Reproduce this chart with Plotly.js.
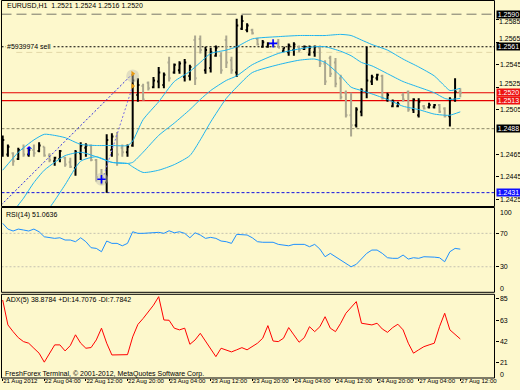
<!DOCTYPE html>
<html><head><meta charset="utf-8">
<script src="https://cdn.plot.ly/plotly-3.0.1.min.js"></script>
<style>html,body{margin:0;padding:0;background:#fdf8cc;}#chart{width:520px;height:390px;}</style>
</head><body><div id="chart"></div>
<script>
// ---------- data ----------
const symbolName = 'EURUSD,H1';
const tickIdx = [0, 8, 16, 24, 32, 40, 48, 56, 64, 72, 80, 88];
const tickLabels = ['21 Aug 2012','22 Aug 04:00','22 Aug 12:00','22 Aug 20:00','23 Aug 04:00','23 Aug 12:00','23 Aug 20:00','24 Aug 04:00','24 Aug 12:00','24 Aug 20:00','27 Aug 04:00','27 Aug 12:00'];
const openP = [1.2469,1.2465,1.2466,1.2461,1.2470,1.2465,1.2469,1.2468,1.2472,1.2464,
 1.2459,1.2461,1.2462,1.2458,1.2453,1.2466,1.2471,1.2473,1.2460,1.2445,
 1.2440,1.2469,1.2481,1.2471,1.2467,1.2473,1.2518,1.2526,1.2529,1.2525,
 1.2530,1.2527,1.2547,1.2538,1.2540,1.2534,1.2535,1.2567,1.2568,1.2540,
 1.2542,1.2553,1.2553,1.2567,1.2549,1.2538,1.2577,1.2576,1.2576,1.2568,
 1.2561,1.2561,1.2564,1.2565,1.2557,1.2556,1.2558,1.2561,1.2559,1.2554,
 1.2556,1.2560,1.2546,1.2551,1.2547,1.2533,1.2520,1.2500,1.2491,1.2503,
 1.2521,1.2530,1.2533,1.2535,1.2514,1.2508,1.2508,1.2518,1.2521,1.2505,
 1.2500,1.2508,1.2507,1.2507,1.2509,1.2506,1.2499,1.2514,1.2521];
const highP = [1.2482,1.2474,1.2467,1.2471,1.2474,1.2471,1.2474,1.2476,1.2472,1.2466,
 1.2463,1.2469,1.2463,1.2462,1.2469,1.2476,1.2475,1.2474,1.2461,1.2452,
 1.2483,1.2484,1.2485,1.2474,1.2474,1.2536,1.2533,1.2528,1.2530,1.2534,
 1.2543,1.2538,1.2552,1.2546,1.2548,1.2550,1.2545,1.2571,1.2571,1.2561,
 1.2560,1.2562,1.2556,1.2571,1.2552,1.2586,1.2589,1.2582,1.2577,1.2569,
 1.2567,1.2565,1.2565,1.2568,1.2560,1.2564,1.2565,1.2562,1.2562,1.2562,
 1.2562,1.2562,1.2549,1.2553,1.2551,1.2536,1.2522,1.2520,1.2507,1.2524,
 1.2561,1.2536,1.2537,1.2536,1.2520,1.2514,1.2512,1.2520,1.2522,1.2515,
 1.2515,1.2509,1.2511,1.2510,1.2510,1.2507,1.2516,1.2533,1.2524];
const lowP = [1.2463,1.2463,1.2455,1.2460,1.2463,1.2463,1.2463,1.2467,1.2463,1.2458,
 1.2455,1.2458,1.2454,1.2453,1.2446,1.2460,1.2463,1.2459,1.2441,1.2438,
 1.2431,1.2463,1.2455,1.2463,1.2463,1.2472,1.2512,1.2513,1.2522,1.2524,
 1.2524,1.2524,1.2530,1.2537,1.2537,1.2530,1.2531,1.2527,1.2555,1.2537,
 1.2538,1.2552,1.2537,1.2542,1.2537,1.2534,1.2576,1.2574,1.2572,1.2562,
 1.2560,1.2560,1.2561,1.2560,1.2556,1.2553,1.2553,1.2556,1.2558,1.2553,
 1.2552,1.2543,1.2527,1.2534,1.2525,1.2514,1.2498,1.2481,1.2489,1.2499,
 1.2515,1.2527,1.2531,1.2514,1.2512,1.2507,1.2507,1.2512,1.2503,1.2502,
 1.2498,1.2505,1.2506,1.2506,1.2502,1.2498,1.2490,1.2512,1.2516];
const closeP = [1.2478,1.2472,1.2459,1.2469,1.2465,1.2469,1.2466,1.2473,1.2464,1.2460,
 1.2462,1.2468,1.2456,1.2454,1.2467,1.2473,1.2473,1.2460,1.2445,1.2441,
 1.2478,1.2481,1.2465,1.2467,1.2472,1.2531,1.2527,1.2514,1.2524,1.2531,
 1.2538,1.2536,1.2533,1.2545,1.2546,1.2547,1.2543,1.2533,1.2558,1.2558,
 1.2556,1.2560,1.2540,1.2547,1.2540,1.2580,1.2584,1.2580,1.2573,1.2563,
 1.2565,1.2564,1.2562,1.2560,1.2560,1.2562,1.2563,1.2558,1.2561,1.2560,
 1.2561,1.2546,1.2530,1.2537,1.2528,1.2516,1.2500,1.2491,1.2505,1.2522,
 1.2531,1.2534,1.2536,1.2515,1.2518,1.2512,1.2510,1.2514,1.2505,1.2514,
 1.2512,1.2506,1.2509,1.2509,1.2503,1.2499,1.2514,1.2521,1.2520];
// Bollinger bands read at sample bars
const bbIdx = [0,3,4,6,8,10,12,15,18,21,24,25,27,30,33,36,38,40,43,45,48,53,57,60,62,65,67,69,71,74,77,80,83,85,86,88];
const bbUpper = [1.2451,1.2467,1.2471,1.2478,1.2483,1.2482,1.2480,1.2474,1.2473,1.2473,1.2473,1.2477,1.2496,1.2512,1.2530,1.2539,1.2547,1.2555,1.2558,1.2561,1.2568,1.2570,1.2571,1.2571,1.2571,1.2572,1.2571,1.2567,1.2563,1.2558,1.2550,1.2543,1.2535,1.2526,1.2522,1.2524];
const bbMiddle = [1.2400,1.2420,1.2426,1.2440,1.2451,1.2458,1.2464,1.2467,1.2463,1.2458,1.2457,1.2458,1.2467,1.2482,1.2493,1.2505,1.2514,1.2522,1.2531,1.2535,1.2545,1.2555,1.2559,1.2561,1.2561,1.2557,1.2553,1.2547,1.2544,1.2537,1.2530,1.2525,1.2520,1.2515,1.2514,1.2515];
const bbLower = [1.2371,1.2384,1.2389,1.2400,1.2411,1.2424,1.2438,1.2459,1.2463,1.2458,1.2457,1.2454,1.2449,1.2451,1.2456,1.2464,1.2478,1.2494,1.2515,1.2525,1.2538,1.2545,1.2549,1.2550,1.2547,1.2535,1.2525,1.2522,1.2519,1.2514,1.2508,1.2505,1.2501,1.2500,1.2500,1.2503];
const rsi = [82.0,75.1,72.8,75.1,74.0,72.8,75.1,71.9,65.9,64.7,
 64.0,64.7,62.0,62.0,60.0,64.7,60.0,52.8,52.0,48.0,
 60.8,58.0,58.0,55.1,58.0,71.9,70.0,70.0,70.7,71.0,
 71.2,70.0,73.1,70.7,71.9,70.0,64.7,70.7,68.0,64.0,
 65.2,64.0,60.8,60.0,58.0,68.8,68.4,68.0,64.7,60.0,
 59.3,59.3,59.3,56.8,56.0,55.1,56.8,56.8,56.8,54.0,
 56.8,51.2,42.0,46.0,42.0,38.0,34.1,30.0,32.9,40.1,
 46.0,50.0,50.0,46.0,40.8,40.1,40.1,44.0,39.2,40.8,
 40.1,42.0,42.0,41.5,40.8,36.0,48.0,52.0,51.1];
const adx = [83.9,58.7,51.9,45.8,41.8,40.2,35.1,30.1,21.0,30.1,
 38.5,38.5,32.4,37.8,48.7,40.2,35.1,35.8,43.5,55.4,
 40.2,28.3,28.6,28.6,28.6,46.6,59.2,65.2,72.0,78.7,
 87.3,63.7,63.4,55.4,53.7,55.4,39.1,43.5,50.2,42.4,
 35.7,26.6,35.1,33.5,31.4,33.5,35.7,33.5,36.7,40.2,
 45.2,58.0,42.4,41.8,45.2,56.0,48.6,41.2,45.8,56.9,
 51.9,56.9,67.0,55.4,51.9,60.4,70.5,76.0,82.3,60.4,
 59.4,58.7,60.4,54.6,51.2,56.0,59.4,53.7,40.2,30.1,
 33.5,36.7,38.5,40.2,56.9,70.5,53.7,48.6,44.5];
const rsiText = 'RSI(14) 51.0636';
const adxText = 'ADX(5) 38.8784 +DI:14.7076 -DI:7.7842';
const rsiLevels = [30, 70];
const priceTicks = [1.2585,1.2565,1.2545,1.2525,1.2505,1.2465,1.2445,1.2425];
// tick labels that sit next to a level box are drawn as nudged texts
const nudgedTicks = ['1.2585','1.2565','1.2525'];
const nudgedTickY = [21.6, 38.2, 83.8];
const levelPrices = [1.2590, 1.2561, 1.2520, 1.2513, 1.2488, 1.2431];
const levelLabels = ['1.2590','1.2561','1.2520','1.2513','1.2488','1.2431'];
const faintLevel = [1.2556];
const orderText = '#5939974 sell';
// trades: open -> close
const tradeOpenIdx = [-0.3, 19];
const tradeOpenPx = [1.2420, 1.2440];
const tradeCloseIdx = [25, 25];
const tradeClosePx = [1.2537, 1.2526];
const buyArrowIdx = [5], buyArrowPx = [1.2467];
const buyCrossIdx = [19, 52], buyCrossPx = [1.2443, 1.2564];

// ---------- layout helpers ----------
const W = 520, H = 390;
const PX = x => x / W, PY = y => 1 - y / H;
const barIdx = closeP.map((_, i) => i);
const FONT = 'Liberation Sans, Arial, sans-serif';
const BG = '#fdf8cc';

const traces = [];
[bbUpper, bbMiddle, bbLower].forEach(b => traces.push({type:'scatter', mode:'lines', x:bbIdx, y:b, xaxis:'x', yaxis:'y', line:{color:'#20b4ee', width:1, shape:'spline', smoothing:0.6}, hoverinfo:'skip'}));
const tradeColors = ['#2c2ce0', '#7a6ee6'];
tradeOpenIdx.forEach((v, k) => {
  traces.push({type:'scatter', mode:'lines', x:[v, tradeCloseIdx[k]], y:[tradeOpenPx[k], tradeClosePx[k]], xaxis:'x', yaxis:'y', line:{color:tradeColors[k], width:1, dash:'2px,2px'}, hoverinfo:'skip'});
});
traces.push({type:'ohlc', x:barIdx, open:openP, high:highP, low:lowP, close:closeP, xaxis:'x', yaxis:'y',
  increasing:{line:{color:'#000000', width:2}}, decreasing:{line:{color:'#aba78f', width:2}}, tickwidth:0.3, hoverinfo:'skip'});
traces.push({type:'scatter', mode:'markers', x:[tradeCloseIdx[0], buyCrossIdx[0]], y:[tradeClosePx[0]-0.0002, buyCrossPx[0]], xaxis:'x', yaxis:'y', marker:{size:13, color:'rgba(190,190,180,0.45)'}, hoverinfo:'skip'});
traces.push({type:'scatter', mode:'markers', x:tradeCloseIdx, y:tradeClosePx, xaxis:'x', yaxis:'y', marker:{symbol:'triangle-right', size:5, color:'#e89a10'}, hoverinfo:'skip'});
traces.push({type:'scatter', mode:'markers', x:buyCrossIdx, y:buyCrossPx, xaxis:'x', yaxis:'y', marker:{symbol:'cross-thin', size:6, line:{color:'#0000ff', width:1.6}}, hoverinfo:'skip'});
traces.push({type:'scatter', mode:'text', x:buyArrowIdx, y:buyArrowPx, xaxis:'x', yaxis:'y', text:['\u2191'], textfont:{family:'DejaVu Sans', size:12, color:'#0000ff'}, hoverinfo:'skip'});
traces.push({type:'scatter', mode:'lines', x:barIdx, y:rsi, xaxis:'x', yaxis:'y2', line:{color:'#1e90ff', width:1}, hoverinfo:'skip'});
traces.push({type:'scatter', mode:'lines', x:barIdx, y:adx, xaxis:'x', yaxis:'y3', line:{color:'#ff0000', width:1}, hoverinfo:'skip'});

const shapes = [];
const levelStyle = [
  {color:'#77776a', dash:'10px,5px', width:1},
  {color:'#000000', dash:'2px,2px', width:1},
  {color:'#e60000', dash:'solid', width:1.2},
  {color:'#e60000', dash:'solid', width:1.2},
  {color:'#8a8868', dash:'3px,2px', width:1},
  {color:'#1010e0', dash:'3px,2px', width:1}];
const boxColors = ['#000000','#000000','#ee1111','#ee1111','#000000','#1010ff'];
faintLevel.forEach(p => shapes.push({type:'line', xref:'x domain', x0:0.03, x1:1, yref:'y', y0:p, y1:p, line:{color:'#e3d7a6', width:1, dash:'6px,4px'}, layer:'below'}));
levelPrices.forEach((p, k) => shapes.push({type:'line', xref:'x domain', x0:0, x1:1, yref:'y', y0:p, y1:p, line:levelStyle[k], layer:'below'}));
rsiLevels.forEach(v => shapes.push({type:'line', xref:'x domain', x0:0, x1:1, yref:'y2', y0:v, y1:v, line:{color:'#c4c2b0', width:1, dash:'2px,2px'}, layer:'below'}));
// panel frames
[[0.5,206.5],[207.5,292.3],[294.3,378]].forEach(([t,b]) => shapes.push({type:'rect', xref:'paper', yref:'paper', x0:PX(1.5), x1:PX(494.5), y0:PY(b), y1:PY(t), line:{color:'#000', width:1}, fillcolor:'rgba(0,0,0,0)'}));

const annotations = [];
const f7 = c => ({family:FONT, size:7, color:c});
levelPrices.forEach((p, k) => annotations.push({xref:'paper', x:PX(495.5), xanchor:'left', yref:'y', y:p, yanchor:'middle', text:levelLabels[k], showarrow:false, bgcolor:boxColors[k], font:{family:FONT, size:7, color:'#ffffff'}, width:23, height:7, borderpad:0, align:'center'}));
annotations.push({xref:'paper', yref:'paper', x:PX(5), y:PY(6), xanchor:'left', yanchor:'middle', showarrow:false, text:symbolName + '  ' + [openP, highP, lowP, closeP].map(a => a[a.length-1].toFixed(4)).join(' '), font:f7('#000')});
annotations.push({xref:'paper', yref:'y', x:PX(5), y:levelPrices[1], xanchor:'left', yanchor:'middle', showarrow:false, text:orderText, font:f7('#000'), bgcolor:BG});
annotations.push({xref:'paper', yref:'paper', x:PX(4), y:PY(214.5), xanchor:'left', yanchor:'middle', showarrow:false, text:rsiText, font:f7('#000')});
annotations.push({xref:'paper', yref:'paper', x:PX(4), y:PY(300), xanchor:'left', yanchor:'middle', showarrow:false, text:adxText, font:f7('#000')});
annotations.push({xref:'paper', yref:'paper', x:PX(3), y:PY(374), xanchor:'left', yanchor:'middle', showarrow:false, text:'FreshForex Terminal, \u00a9 2001-2012, MetaQuotes Software Corp.', font:f7('#000')});
[['100',212.3],['0',288.3],['0',374.3]].forEach(([t,y]) => annotations.push({xref:'paper', yref:'paper', x:PX(498), y:PY(y), xanchor:'left', yanchor:'middle', showarrow:false, text:t, font:f7('#000')}));
nudgedTicks.forEach((t, k) => annotations.push({xref:'paper', yref:'paper', x:PX(498), y:PY(nudgedTickY[k]), xanchor:'left', yanchor:'middle', showarrow:false, text:t, font:f7('#000'), borderpad:0}));

const yCommon = {side:'right', anchor:'x', ticks:'outside', ticklen:3, tickcolor:'#000', showgrid:false, zeroline:false, showline:false, tickfont:f7('#000'), fixedrange:true};
const layout = {
  width:W, height:H, margin:{l:0, r:0, t:0, b:0}, paper_bgcolor:BG, plot_bgcolor:BG, showlegend:false,
  xaxis:{domain:[PX(1.5), PX(494.5)], range:[-0.23, 94.58], anchor:'y3', tickmode:'array', tickvals:tickIdx, ticktext:tickLabels, tickangle:0,
    ticks:'outside', ticklen:2, tickcolor:'#000', ticklabelposition:'outside right', ticklabelstandoff:-3, tickfont:{family:FONT, size:6.1, color:'#000'}, showgrid:false, zeroline:false, showline:false, rangeslider:{visible:false}, fixedrange:true, automargin:false},
  yaxis:Object.assign({domain:[PY(206.5), PY(1)], range:[1.241866, 1.260176], tickmode:'array', tickvals:priceTicks, ticktext:priceTicks.map(v => nudgedTicks.includes(v.toFixed(4)) ? '' : v.toFixed(4))}, yCommon),
  yaxis2:Object.assign({domain:[PY(291.8), PY(208.3)], range:[0, 100], tickmode:'array', tickvals:[70, 30]}, yCommon),
  yaxis3:Object.assign({domain:[PY(378), PY(294)], range:[4.98, 90], tickmode:'array', tickvals:[85, 63, 42, 21]}, yCommon),
  shapes:shapes, annotations:annotations
};
Plotly.newPlot('chart', traces, layout, {staticPlot:true, displayModeBar:false});
</script>
</body></html>
